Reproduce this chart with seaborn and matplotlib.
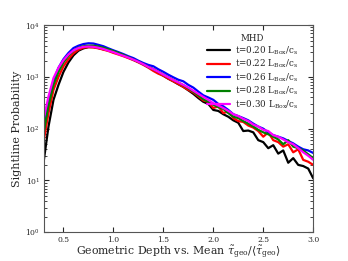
import numpy as np
import pandas as pd
import seaborn as sns
from matplotlib import pyplot as plt

# depth bins (tau / <tau>)
depth = np.round(np.arange(0.30, 3.001, 0.05), 2)

prob_020 = [22, 110, 360, 700, 1250, 1900, 2600, 3200, 3550, 3750, 3750, 3600, 3400, 3250,
            3000, 2800, 2600, 2350, 2150, 1950, 1800, 1550, 1400, 1200, 1050, 920, 820, 720,
            640, 550, 470, 390, 330, 300, 230, 220, 190, 170, 145, 130, 90, 92, 85, 60, 55,
            42, 48, 33, 38, 22, 27, 20, 19, 17, 11]
prob_022 = [55, 200, 560, 1000, 1600, 2200, 2850, 3350, 3650, 3750, 3700, 3550, 3350, 3150,
            2900, 2700, 2500, 2300, 2100, 1900, 1700, 1500, 1300, 1150, 1050, 920, 820, 730,
            640, 560, 500, 420, 350, 330, 250, 270, 200, 215, 160, 140, 135, 115, 105, 90, 70,
            85, 60, 55, 45, 50, 35, 40, 25, 23, 20]
prob_026 = [90, 330, 850, 1500, 2200, 2900, 3600, 4000, 4300, 4450, 4400, 4150, 3900, 3550,
            3250, 3000, 2750, 2500, 2300, 2050, 1850, 1700, 1600, 1400, 1250, 1100, 980, 880,
            820, 700, 620, 520, 440, 400, 360, 300, 270, 230, 190, 175, 160, 145, 125, 110, 100,
            85, 75, 70, 65, 58, 52, 45, 40, 38, 34]
prob_028 = [80, 280, 700, 1250, 1900, 2550, 3200, 3650, 3900, 4000, 4000, 3850, 3650, 3400,
            3150, 2900, 2650, 2400, 2150, 1950, 1750, 1550, 1400, 1250, 1100, 980, 870, 780,
            690, 600, 520, 440, 370, 330, 290, 260, 240, 200, 170, 160, 140, 125, 110, 95, 85,
            78, 70, 62, 50, 60, 45, 42, 38, 32, 27]
prob_030 = [150, 420, 950, 1500, 2100, 2700, 3250, 3600, 3800, 3850, 3800, 3650, 3450, 3200,
            3000, 2750, 2550, 2350, 2150, 1950, 1750, 1550, 1400, 1250, 1100, 980, 870, 780,
            700, 620, 540, 470, 410, 360, 310, 280, 250, 220, 190, 175, 155, 140, 120, 110, 95,
            90, 75, 70, 62, 55, 50, 42, 35, 30, 25]

labels = [r"t=0.20 L$_{\rm Box}$/c$_{\rm s}$", r"t=0.22 L$_{\rm Box}$/c$_{\rm s}$",
          r"t=0.26 L$_{\rm Box}$/c$_{\rm s}$", r"t=0.28 L$_{\rm Box}$/c$_{\rm s}$",
          r"t=0.30 L$_{\rm Box}$/c$_{\rm s}$"]
colors = ["black", "red", "blue", "green", "magenta"]
series = [prob_020, prob_022, prob_026, prob_028, prob_030]

# long form table
df = pd.concat([pd.DataFrame({"depth": depth, "prob": s, "time": lab})
                for s, lab in zip(series, labels)])

sns.set_style("ticks")
plt.rcParams["font.family"] = ["DejaVu Serif"]
plt.rcParams["mathtext.fontset"] = "dejavuserif"
plt.rcParams["xtick.direction"] = "in"
plt.rcParams["ytick.direction"] = "in"

fig, ax = plt.subplots(figsize=(3.48, 2.61), dpi=100)
sns.lineplot(data=df, x="depth", y="prob", hue="time", palette=colors,
             linewidth=1.6, ax=ax)
ax.set_yscale("log")
ax.set_xlim(0.3, 3.0)
ax.set_ylim(1, 1e4)
ax.tick_params(labelsize=5.5, top=True, right=True, which="both", pad=2.5)
ax.set_xticks([0.5, 1.0, 1.5, 2.0, 2.5, 3.0])
ax.set_xlabel(r"Geometric Depth vs. Mean $\tilde{\tau}_{\rm geo}/\langle\tilde{\tau}_{\rm geo}\rangle$",
              fontsize=7.8, labelpad=0)
ax.set_ylabel("Sightline Probability", fontsize=8, labelpad=2)
for sp in ax.spines.values():
    sp.set_color("#555555")
    sp.set_linewidth(0.8)
ax.legend(title="MHD", frameon=False, fontsize=6.3, title_fontsize=6.3,
          loc="upper right", bbox_to_anchor=(0.975, 0.995),
          handlelength=2.6, labelspacing=0.12, handletextpad=0.6)
plt.subplots_adjust(left=0.125, right=0.9, top=0.904, bottom=0.11)
plt.savefig("out.png", dpi=100)
